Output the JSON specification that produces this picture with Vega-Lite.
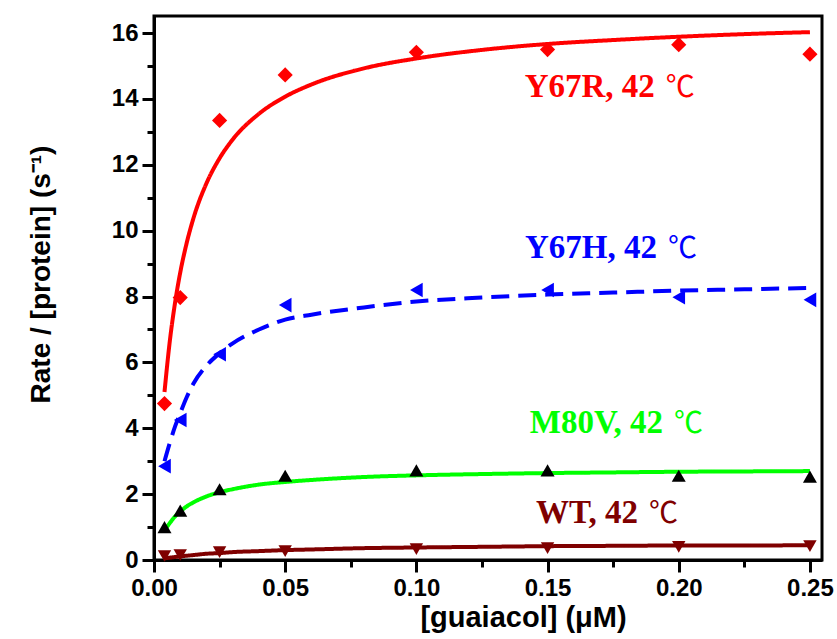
{
  "$schema": "https://vega.github.io/schema/vega-lite/v6.json",
  "width": 668,
  "height": 544,
  "autosize": "none",
  "padding": {"left": 154, "top": 16, "right": 15, "bottom": 79},
  "background": "white",
  "config": {
    "view": {"stroke": "black", "strokeWidth": 3},
    "axis": {
      "grid": false,
      "domainColor": "black",
      "domainWidth": 3,
      "tickColor": "black",
      "tickWidth": 3,
      "tickSize": 12,
      "labelFont": "Liberation Sans",
      "labelFontWeight": "bold",
      "labelFontSize": 24,
      "labelColor": "black",
      "labelPadding": 4,
      "labelFlush": false,
      "labelOverlap": false,
      "titleFont": "Liberation Sans",
      "titleFontWeight": "bold",
      "titleFontSize": 28,
      "titleColor": "black"
    }
  },
  "datasets": {
    "pts": [
      {"series": "Y67R", "x": 0.004, "y": 4.75},
      {"series": "Y67R", "x": 0.01, "y": 7.97},
      {"series": "Y67R", "x": 0.025, "y": 13.35},
      {"series": "Y67R", "x": 0.05, "y": 14.73},
      {"series": "Y67R", "x": 0.1, "y": 15.42},
      {"series": "Y67R", "x": 0.15, "y": 15.5},
      {"series": "Y67R", "x": 0.2, "y": 15.65},
      {"series": "Y67R", "x": 0.25, "y": 15.36},
      {"series": "Y67H", "x": 0.004, "y": 2.85},
      {"series": "Y67H", "x": 0.01, "y": 4.25},
      {"series": "Y67H", "x": 0.025, "y": 6.25},
      {"series": "Y67H", "x": 0.05, "y": 7.74},
      {"series": "Y67H", "x": 0.1, "y": 8.2},
      {"series": "Y67H", "x": 0.15, "y": 8.2},
      {"series": "Y67H", "x": 0.2, "y": 7.98},
      {"series": "Y67H", "x": 0.25, "y": 7.9},
      {"series": "M80V", "x": 0.004, "y": 1.0},
      {"series": "M80V", "x": 0.01, "y": 1.5},
      {"series": "M80V", "x": 0.025, "y": 2.15},
      {"series": "M80V", "x": 0.05, "y": 2.56},
      {"series": "M80V", "x": 0.1, "y": 2.72},
      {"series": "M80V", "x": 0.15, "y": 2.72},
      {"series": "M80V", "x": 0.2, "y": 2.56},
      {"series": "M80V", "x": 0.25, "y": 2.53},
      {"series": "WT", "x": 0.004, "y": 0.12},
      {"series": "WT", "x": 0.01, "y": 0.15},
      {"series": "WT", "x": 0.025, "y": 0.24},
      {"series": "WT", "x": 0.05, "y": 0.27},
      {"series": "WT", "x": 0.1, "y": 0.33},
      {"series": "WT", "x": 0.15, "y": 0.36},
      {"series": "WT", "x": 0.2, "y": 0.4},
      {"series": "WT", "x": 0.25, "y": 0.42}
    ],
    "fit": [
      {"series": "Y67R", "x": 0.004, "y": 5.1},
      {"series": "Y67R", "x": 0.006, "y": 6.63},
      {"series": "Y67R", "x": 0.008, "y": 7.8},
      {"series": "Y67R", "x": 0.01, "y": 8.73},
      {"series": "Y67R", "x": 0.0125, "y": 9.64},
      {"series": "Y67R", "x": 0.015, "y": 10.37},
      {"series": "Y67R", "x": 0.02, "y": 11.44},
      {"series": "Y67R", "x": 0.025, "y": 12.2},
      {"series": "Y67R", "x": 0.03, "y": 12.77},
      {"series": "Y67R", "x": 0.04, "y": 13.55},
      {"series": "Y67R", "x": 0.05, "y": 14.07},
      {"series": "Y67R", "x": 0.06, "y": 14.44},
      {"series": "Y67R", "x": 0.08, "y": 14.93},
      {"series": "Y67R", "x": 0.1, "y": 15.23},
      {"series": "Y67R", "x": 0.125, "y": 15.49},
      {"series": "Y67R", "x": 0.15, "y": 15.67},
      {"series": "Y67R", "x": 0.175, "y": 15.79},
      {"series": "Y67R", "x": 0.2, "y": 15.89},
      {"series": "Y67R", "x": 0.225, "y": 15.97},
      {"series": "Y67R", "x": 0.25, "y": 16.03},
      {"series": "Y67H", "x": 0.004, "y": 3.0},
      {"series": "Y67H", "x": 0.006, "y": 3.55},
      {"series": "Y67H", "x": 0.008, "y": 4.05},
      {"series": "Y67H", "x": 0.01, "y": 4.46},
      {"series": "Y67H", "x": 0.0125, "y": 4.95},
      {"series": "Y67H", "x": 0.015, "y": 5.35},
      {"series": "Y67H", "x": 0.02, "y": 5.9},
      {"series": "Y67H", "x": 0.025, "y": 6.28},
      {"series": "Y67H", "x": 0.03, "y": 6.58},
      {"series": "Y67H", "x": 0.04, "y": 7.0},
      {"series": "Y67H", "x": 0.05, "y": 7.3},
      {"series": "Y67H", "x": 0.06, "y": 7.45},
      {"series": "Y67H", "x": 0.08, "y": 7.67},
      {"series": "Y67H", "x": 0.1, "y": 7.85},
      {"series": "Y67H", "x": 0.125, "y": 7.97},
      {"series": "Y67H", "x": 0.15, "y": 8.06},
      {"series": "Y67H", "x": 0.175, "y": 8.12},
      {"series": "Y67H", "x": 0.2, "y": 8.18},
      {"series": "Y67H", "x": 0.225, "y": 8.22},
      {"series": "Y67H", "x": 0.25, "y": 8.26},
      {"series": "M80V", "x": 0.004, "y": 0.9},
      {"series": "M80V", "x": 0.006, "y": 1.12},
      {"series": "M80V", "x": 0.008, "y": 1.32},
      {"series": "M80V", "x": 0.01, "y": 1.47},
      {"series": "M80V", "x": 0.0125, "y": 1.63},
      {"series": "M80V", "x": 0.015, "y": 1.75},
      {"series": "M80V", "x": 0.02, "y": 1.93},
      {"series": "M80V", "x": 0.025, "y": 2.06},
      {"series": "M80V", "x": 0.03, "y": 2.15},
      {"series": "M80V", "x": 0.04, "y": 2.29},
      {"series": "M80V", "x": 0.05, "y": 2.37},
      {"series": "M80V", "x": 0.06, "y": 2.43},
      {"series": "M80V", "x": 0.08, "y": 2.52},
      {"series": "M80V", "x": 0.1, "y": 2.57},
      {"series": "M80V", "x": 0.125, "y": 2.61},
      {"series": "M80V", "x": 0.15, "y": 2.64},
      {"series": "M80V", "x": 0.175, "y": 2.66},
      {"series": "M80V", "x": 0.2, "y": 2.68},
      {"series": "M80V", "x": 0.225, "y": 2.69},
      {"series": "M80V", "x": 0.25, "y": 2.7},
      {"series": "WT", "x": 0.004, "y": 0.05},
      {"series": "WT", "x": 0.006, "y": 0.07},
      {"series": "WT", "x": 0.008, "y": 0.09},
      {"series": "WT", "x": 0.01, "y": 0.11},
      {"series": "WT", "x": 0.0125, "y": 0.13},
      {"series": "WT", "x": 0.015, "y": 0.15},
      {"series": "WT", "x": 0.02, "y": 0.19},
      {"series": "WT", "x": 0.025, "y": 0.21},
      {"series": "WT", "x": 0.03, "y": 0.24},
      {"series": "WT", "x": 0.04, "y": 0.27},
      {"series": "WT", "x": 0.05, "y": 0.3},
      {"series": "WT", "x": 0.06, "y": 0.32},
      {"series": "WT", "x": 0.08, "y": 0.36},
      {"series": "WT", "x": 0.1, "y": 0.38},
      {"series": "WT", "x": 0.125, "y": 0.4},
      {"series": "WT", "x": 0.15, "y": 0.42},
      {"series": "WT", "x": 0.175, "y": 0.43},
      {"series": "WT", "x": 0.2, "y": 0.44},
      {"series": "WT", "x": 0.225, "y": 0.44},
      {"series": "WT", "x": 0.25, "y": 0.45}
    ],
    "labels": [
      {"series": "Y67R", "label": "Y67R, 42", "x": 0.1909, "y": 14.06},
      {"series": "Y67H", "label": "Y67H, 42", "x": 0.1917, "y": 9.17},
      {"series": "M80V", "label": "M80V, 42", "x": 0.194, "y": 3.86},
      {"series": "WT", "label": "WT, 42", "x": 0.1845, "y": 1.12}
    ]
  },
  "resolve": {"axis": {"x": "independent", "y": "independent"}},
  "layer": [
    {
      "data": {"name": "pts"},
      "mark": {"type": "point", "opacity": 0},
      "encoding": {
        "x": {"field": "x", "type": "quantitative", "scale": {"domain": [0, 0.2546], "nice": false, "zero": false},
              "axis": {"orient": "bottom", "values": [0.025, 0.075, 0.125, 0.175, 0.225], "labels": false, "tickSize": 7, "domain": false, "title": null}},
        "y": {"field": "y", "type": "quantitative", "scale": {"domain": [0, 16.52], "nice": false, "zero": false},
              "axis": {"orient": "left", "values": [1, 3, 5, 7, 9, 11, 13, 15], "labels": false, "tickSize": 7, "domain": false, "title": null}}
      }
    },
    {
      "data": {"name": "fit"},
      "mark": {"type": "line", "strokeWidth": 4, "interpolate": "monotone"},
      "encoding": {
        "x": {"field": "x", "type": "quantitative",
              "axis": {"orient": "bottom", "values": [0, 0.05, 0.1, 0.15, 0.2, 0.25], "format": ".2f", "title": "[guaiacol] (μM)", "titlePadding": 3, "titleFontSize": 29, "titleX": 369}},
        "y": {"field": "y", "type": "quantitative",
              "axis": {"orient": "left", "values": [0, 2, 4, 6, 8, 10, 12, 14, 16], "format": "d", "title": "Rate / [protein] (s⁻¹)", "titlePadding": 56, "titleY": 258}},
        "stroke": {"field": "series", "type": "nominal", "legend": null,
                   "scale": {"domain": ["Y67R", "Y67H", "M80V", "WT"], "range": ["#ff0000", "#0000ff", "#00ff00", "#7f0000"]}},
        "strokeDash": {"field": "series", "type": "nominal", "legend": null,
                       "scale": {"domain": ["Y67R", "Y67H", "M80V", "WT"], "range": [[1, 0], [18, 9], [1, 0], [1, 0]]}},
        "detail": {"field": "series"}
      }
    },
    {
      "data": {"name": "pts"},
      "mark": {"type": "point", "filled": true, "opacity": 1, "strokeWidth": 0},
      "encoding": {
        "x": {"field": "x", "type": "quantitative", "axis": null},
        "y": {"field": "y", "type": "quantitative", "axis": null},
        "fill": {"field": "series", "type": "nominal", "legend": null,
                 "scale": {"domain": ["Y67R", "Y67H", "M80V", "WT"], "range": ["#ff0000", "#0000ff", "#000000", "#7f0000"]}},
        "shape": {"field": "series", "type": "nominal", "legend": null,
                  "scale": {"domain": ["Y67R", "Y67H", "M80V", "WT"], "range": ["diamond", "triangle-left", "triangle-up", "triangle-down"]}},
        "size": {"field": "series", "type": "nominal", "legend": null,
                 "scale": {"domain": ["Y67R", "Y67H", "M80V", "WT"], "range": [230, 180, 190, 190]}}
      }
    },
    {
      "data": {"name": "labels"},
      "mark": {"type": "text", "align": "right", "baseline": "alphabetic", "font": "Liberation Serif", "fontWeight": "bold", "fontSize": 33},
      "encoding": {
        "x": {"field": "x", "type": "quantitative", "axis": null},
        "y": {"field": "y", "type": "quantitative", "axis": null},
        "text": {"field": "label"},
        "color": {"field": "series", "type": "nominal", "legend": null,
                  "scale": {"domain": ["Y67R", "Y67H", "M80V", "WT"], "range": ["#ff0000", "#0000ff", "#00ff00", "#7f0000"]}}
      }
    },
    {
      "data": {"name": "labels"},
      "mark": {"type": "text", "align": "left", "baseline": "alphabetic", "dx": 11, "font": "Noto Sans CJK SC", "fontWeight": "normal", "fontSize": 29, "text": "℃"},
      "encoding": {
        "x": {"field": "x", "type": "quantitative", "axis": null},
        "y": {"field": "y", "type": "quantitative", "axis": null},
        "color": {"field": "series", "type": "nominal", "legend": null}
      }
    }
  ]
}
